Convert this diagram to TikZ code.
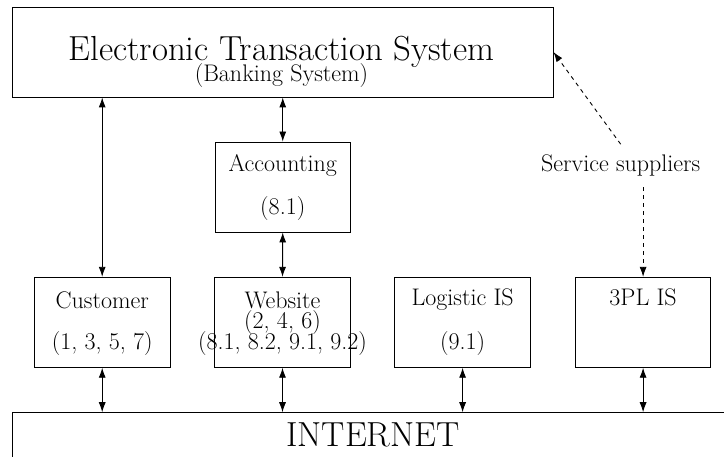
\documentclass[tikz,border=0pt]{standalone}
\usetikzlibrary{arrows.meta}
\newcommand\normaltxt{\fontsize{24}{29}\selectfont}
\newcommand\bigtxt{\fontsize{34.8}{41}\selectfont}
\begin{document}
\begin{tikzpicture}[x=1pt,y=-1pt,
  box/.style={draw, line width=0.9pt, rectangle, inner sep=0pt, minimum width=135.5pt, minimum height=90pt},
  lbl/.style={anchor=base, inner sep=0pt, font=\normaltxt},
  biglbl/.style={anchor=base, inner sep=0pt, font=\bigtxt},
  dbl/.style={{Latex[length=10pt,width=7pt]}-{Latex[length=10pt,width=7pt]}, line width=0.9pt},
  dsh/.style={-{Latex[length=10pt,width=7pt]}, dash pattern=on 4pt off 4pt, line width=0.9pt}]
\useasboundingbox (0,0) rectangle (724,457);
% boxes
\node[box, minimum width=541pt] (top) at (282.5,52) {};
\node[box] (acc) at (282.75,187) {};
\node[box] (cust) at (102.2,322.3) {};
\node[box] (web) at (282.5,322.3) {};
\node[box] (log) at (462.6,322.3) {};
\node[box] (pl) at (643.1,322.3) {};
\node[box, minimum width=722pt, minimum height=57.3pt] (net) at (373,441.35) {};
% labels
\node[biglbl] (t1) at (281.5,61) {Electronic Transaction System};
\node[lbl] (t2) at (281.5,82) {(Banking System)};
\node[lbl] (a1) at (282.75,171.7) {Accounting};
\node[lbl] (a2) at (282.75,215) {(8.1)};
\node[lbl] (c1) at (102.2,308.3) {Customer};
\node[lbl] (c2) at (102.2,350) {(1, 3, 5, 7)};
\node[lbl] (w1) at (282.5,308.3) {Website};
\node[lbl] (w2) at (282.5,329) {(2, 4, 6)};
\node[lbl] (w3) at (282.5,350) {(8.1, 8.2, 9.1, 9.2)};
\node[lbl] (l1) at (462.6,306) {Logistic IS};
\node[lbl] (l2) at (462.6,350) {(9.1)};
\node[lbl] (p1) at (643.1,306) {3PL IS};
\node[biglbl] (n1) at (373,446.7) {INTERNET};
\node[anchor=base, font=\normaltxt, inner xsep=0pt, inner ysep=10.5pt] (ss) at (620.7,171.7) {Service suppliers};
% connectors
\draw[dbl] (top.south -| cust.north) -- (cust.north);
\draw[dbl] (top.south -| acc.north) -- (acc.north);
\draw[dbl] (acc.south) -- (web.north);
\draw[dbl] (cust.south) -- (cust.south |- net.north);
\draw[dbl] (web.south) -- (web.south |- net.north);
\draw[dbl] (log.south) -- (log.south |- net.north);
\draw[dbl] (pl.south) -- (pl.south |- net.north);
\draw[dsh] (ss.north) -- (top.east);
\draw[dsh] (ss.south -| pl.north) -- (pl.north);
\end{tikzpicture}
\end{document}
